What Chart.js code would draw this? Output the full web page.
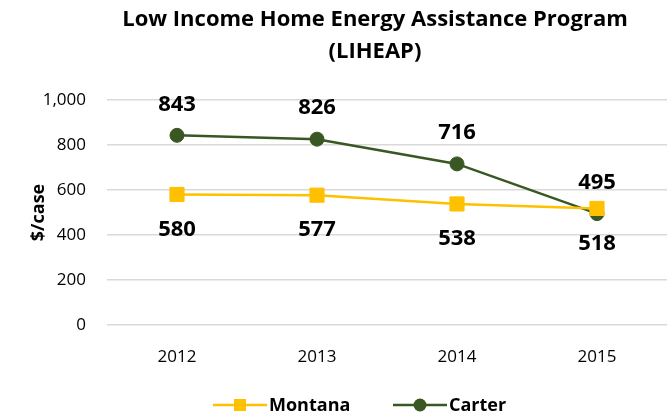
<!DOCTYPE html>
<html><head><meta charset="utf-8">
<script src="https://cdn.jsdelivr.net/npm/chart.js@4/dist/chart.umd.min.js"></script>
<style>html,body{margin:0;padding:0;background:#fff;overflow:hidden}#w{width:672px;height:419px;position:relative}canvas{display:block}</style>
</head><body><div id="w"><canvas id="c"></canvas></div>
<script>
const categories = ['2012','2013','2014','2015'];
const montana = [580, 577, 538, 518];
const carter = [843, 826, 716, 495];
const yTicks = [0, 200, 400, 600, 800, 1000];
const titleLines = ['Low Income Home Energy Assistance Program', '(LIHEAP)'];
const FONT = '"Open Sans", Lato, sans-serif';

const titlePlugin = {
  id: 'ttl',
  afterDraw(chart) {
    const ctx = chart.ctx;
    ctx.save();
    ctx.font = 'bold 22px ' + FONT;
    ctx.fillStyle = '#000';
    ctx.textAlign = 'center';
    ctx.textBaseline = 'middle';
    titleLines.forEach((t, i) => ctx.fillText(t, 375, 20 + i * 32));
    ctx.restore();
  }
};
const labelPlugin = {
  id: 'lbl',
  afterDatasetsDraw(chart) {
    const ctx = chart.ctx;
    ctx.save();
    ctx.font = 'bold 22px ' + FONT;
    ctx.fillStyle = '#000';
    ctx.textAlign = 'center';
    ctx.textBaseline = 'middle';
    chart.data.datasets.forEach((ds, i) => {
      const meta = chart.getDatasetMeta(i);
      meta.data.forEach((pt, j) => {
        const above = ds.labelPos === 'above';
        ctx.fillText(String(ds.data[j]), pt.x, above ? pt.y - 31 : pt.y + 35);
      });
    });
    ctx.restore();
  }
};
const legendPlugin = {
  id: 'leg',
  afterDraw(chart) {
    const ctx = chart.ctx;
    ctx.save();
    ctx.font = 'bold 18px ' + FONT;
    ctx.textBaseline = 'middle';
    ctx.textAlign = 'left';
    const y = 405;
    const starts = [213, 393];
    chart.data.datasets.forEach((ds, i) => {
      const x = starts[i];
      ctx.strokeStyle = ds.borderColor;
      ctx.lineWidth = 2.5;
      ctx.beginPath(); ctx.moveTo(x, y); ctx.lineTo(x + 54, y); ctx.stroke();
      ctx.fillStyle = ds.pointBackgroundColor;
      if (ds.pointStyle === 'rect') ctx.fillRect(x + 21, y - 6, 12, 12);
      else { ctx.beginPath(); ctx.arc(x + 27, y, 6.5, 0, Math.PI * 2); ctx.fill(); }
      ctx.fillStyle = '#000';
      ctx.fillText(ds.label, x + 56, y + 1);
    });
    ctx.restore();
  }
};

new Chart(document.getElementById('c'), {
  type: 'line',
  data: {
    labels: categories,
    datasets: [
      { label: 'Montana', data: montana, borderColor: '#FFC000', backgroundColor: '#FFC000',
        pointBackgroundColor: '#FFC000', pointBorderColor: '#FFC000', pointStyle: 'rect',
        pointRadius: 10, pointBorderWidth: 1, borderWidth: 2.5, labelPos: 'below' },
      { label: 'Carter', data: carter, borderColor: '#385723', backgroundColor: '#385723',
        pointBackgroundColor: '#385723', pointBorderColor: '#385723', pointStyle: 'circle',
        pointRadius: 7, pointBorderWidth: 1, borderWidth: 2.5, labelPos: 'above' }
    ]
  },
  options: {
    responsive: true, maintainAspectRatio: false, animation: false,
    layout: { autoPadding: false, padding: { left: 0, right: 5, top: 100, bottom: 40 } },
    plugins: {
      legend: { display: false },
      tooltip: { enabled: false },
      title: { display: false }
    },
    scales: {
      x: { offset: true, grid: { display: false }, border: { display: false },
        afterFit(s) { s.height = 54; s.paddingLeft = 0; s.paddingRight = 0; },
        ticks: { font: { family: FONT, size: 17 }, color: '#000', padding: 14 } },
      y: { min: 0, max: 1000, afterBuildTicks(s) { s.ticks = yTicks.map(v => ({ value: v })); },
        afterFit(s) { s.width = 107; },
        grid: { color: '#d9d9d9', lineWidth: 1.5, drawTicks: false }, border: { display: false },
        ticks: { font: { family: FONT, size: 17 }, color: '#000', padding: 21,
          callback: v => v.toLocaleString('en-US') },
        title: { display: true, text: '$/case', font: { family: FONT, size: 18, weight: 'bold' }, color: '#000', padding: { top: 28, bottom: 0 } } }
    }
  },
  plugins: [labelPlugin, legendPlugin, titlePlugin]
});
</script></body></html>
